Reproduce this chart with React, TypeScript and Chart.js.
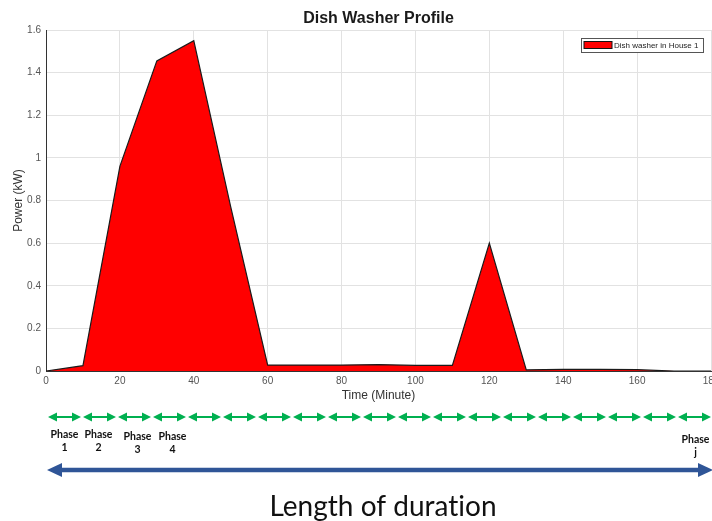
import React, { useEffect, useRef } from "react";
import { Chart, registerables } from "chart.js";

Chart.register(...registerables);

const times = [0, 10, 20, 30, 40, 50, 60, 70, 80, 90, 100, 110, 120, 130, 140, 150, 160, 170, 180];
const power = [0, 0.025, 0.96, 1.455, 1.55, 0.77, 0.028, 0.028, 0.028, 0.03, 0.026, 0.026, 0.6, 0.005, 0.008, 0.008, 0.006, 0, 0];
const seriesLabel = "Dish washer in House 1";
const chartTitle = "Dish Washer Profile";
const xTitle = "Time (Minute)";
const yTitle = "Power (kW)";
const phaseCount = 19;
const phaseLabels = [
  { idx: 0, l1: "Phase", l2: "1", dx: 0, dy: 0 },
  { idx: 1, l1: "Phase", l2: "2", dx: -1, dy: 0 },
  { idx: 2, l1: "Phase", l2: "3", dx: 3, dy: 1.5 },
  { idx: 3, l1: "Phase", l2: "4", dx: 3, dy: 1.5 },
  { idx: 18, l1: "Phase", l2: "j", dx: 1, dy: 5 },
];
const durationText = "Length of duration";

const W = 712;
const H = 521;

function drawDoubleArrow(ctx: CanvasRenderingContext2D, x1: number, x2: number, y: number, lw: number, hl: number, hh: number, color: string) {
  ctx.save();
  ctx.strokeStyle = color;
  ctx.fillStyle = color;
  ctx.lineWidth = lw;
  ctx.beginPath();
  ctx.moveTo(x1 + hl - 1, y);
  ctx.lineTo(x2 - hl + 1, y);
  ctx.stroke();
  ctx.beginPath();
  ctx.moveTo(x1, y);
  ctx.lineTo(x1 + hl, y - hh);
  ctx.lineTo(x1 + hl, y + hh);
  ctx.closePath();
  ctx.fill();
  ctx.beginPath();
  ctx.moveTo(x2, y);
  ctx.lineTo(x2 - hl, y - hh);
  ctx.lineTo(x2 - hl, y + hh);
  ctx.closePath();
  ctx.fill();
  ctx.restore();
}

const decorPlugin = {
  id: "decor",
  afterDraw(chart: any) {
    const ctx: CanvasRenderingContext2D = chart.ctx;
    const area = chart.chartArea;
    // title
    ctx.save();
    ctx.fillStyle = "#1a1a1a";
    ctx.font = "bold 16px 'Liberation Sans', Arial, sans-serif";
    ctx.textAlign = "center";
    ctx.textBaseline = "middle";
    ctx.fillText(chartTitle, (area.left + area.right) / 2, 19);
    ctx.restore();

    // legend box
    const lx = 581, ly = 38, lw = 122, lh = 14;
    ctx.save();
    ctx.fillStyle = "#ffffff";
    ctx.fillRect(lx, ly, lw, lh);
    ctx.strokeStyle = "#555";
    ctx.lineWidth = 1;
    ctx.strokeRect(lx + 0.5, ly + 0.5, lw, lh);
    ctx.fillStyle = "#ff0000";
    ctx.fillRect(584, 41.5, 28, 7);
    ctx.strokeStyle = "#111";
    ctx.strokeRect(584, 41.5, 28, 7);
    ctx.fillStyle = "#222";
    ctx.font = "8px 'Liberation Sans', Arial, sans-serif";
    ctx.textAlign = "left";
    ctx.textBaseline = "middle";
    ctx.fillText(chart.data.datasets[0].label, 614, 45.5);
    ctx.restore();

    // green phase arrows
    const startX = area.left + 1;
    const endX = W;
    const step = (endX - startX) / phaseCount;
    for (let i = 0; i < phaseCount; i++) {
      drawDoubleArrow(ctx, startX + i * step + 1, startX + (i + 1) * step - 1, 417, 2, 9, 4.5, "#00b050");
    }
    // phase labels
    ctx.save();
    ctx.fillStyle = "#111";
    ctx.font = "bold 10.5px Lato, 'Noto Sans', sans-serif";
    ctx.textAlign = "center";
    ctx.textBaseline = "middle";
    for (const p of phaseLabels) {
      const cx = startX + (p.idx + 0.5) * step + p.dx;
      ctx.fillText(p.l1, cx, 435 + p.dy);
      ctx.fillText(p.l2, cx, 448 + p.dy);
    }
    ctx.restore();

    // blue duration arrow
    drawDoubleArrow(ctx, startX, W + 1, 470, 4.5, 15, 7, "#2f5597");

    ctx.save();
    ctx.fillStyle = "#111";
    ctx.font = "28px Lato, 'Noto Sans', sans-serif";
    (ctx as any).letterSpacing = "0.01px";
    ctx.textAlign = "center";
    ctx.textBaseline = "middle";
    ctx.fillText(durationText, 383, 507);
    ctx.restore();
  },
};

export default function App() {
  const ref = useRef<HTMLCanvasElement | null>(null);
  useEffect(() => {
    document.body.style.margin = "0";
    const canvas = ref.current!;
    const chart = new Chart(canvas, {
      type: "line",
      data: {
        datasets: [
          {
            label: seriesLabel,
            data: times.map((t, i) => ({ x: t, y: power[i] })),
            backgroundColor: "#ff0000",
            borderColor: "#1a1a1a",
            borderWidth: 1.2,
            fill: "origin",
            pointRadius: 0,
            tension: 0,
          },
        ],
      },
      options: {
        animation: false,
        responsive: false,
        maintainAspectRatio: false,
        layout: { padding: { top: 30, right: 1, bottom: 110, left: 0 } },
        plugins: {
          legend: { display: false },
          title: { display: false },
          tooltip: { enabled: false },
        },
        scales: {
          x: {
            type: "linear",
            min: 0,
            max: 180,
            ticks: {
              stepSize: 20,
              color: "#555",
              padding: 4,
              maxRotation: 0,
              font: { size: 10, family: "'Liberation Sans', Arial, sans-serif" },
            },
            grid: { color: "#e2e2e2", drawTicks: false },
            border: { color: "#333", width: 1 },
            title: {
              display: true,
              text: xTitle,
              color: "#333",
              padding: { top: 0, bottom: 8 },
              font: { size: 12, family: "'Liberation Sans', Arial, sans-serif" },
            },
            afterFit(scale: any) {
              scale.height = 40;
              scale.paddingRight = 0;
            },
          },
          y: {
            min: 0,
            max: 1.6,
            ticks: {
              stepSize: 0.2,
              color: "#555",
              padding: 5,
              font: { size: 10, family: "'Liberation Sans', Arial, sans-serif" },
              callback: (v: any) => String(Math.round(Number(v) * 10) / 10),
            },
            grid: { color: "#e2e2e2", drawTicks: false },
            border: { color: "#333", width: 1 },
            title: {
              display: true,
              text: yTitle,
              color: "#333",
              padding: { top: 11, bottom: 0 },
              font: { size: 12, family: "'Liberation Sans', Arial, sans-serif" },
            },
            afterFit(scale: any) {
              scale.width = 46;
              scale.paddingTop = 0;
            },
          },
        },
      },
      plugins: [decorPlugin],
    });
    return () => chart.destroy();
  }, []);
  return (
    <div style={{ position: "fixed", left: 0, top: 0, width: W, height: H, overflow: "hidden", background: "#fff" }}>
      <canvas ref={ref} width={W} height={H} style={{ display: "block", width: W, height: H }} />
    </div>
  );
}
